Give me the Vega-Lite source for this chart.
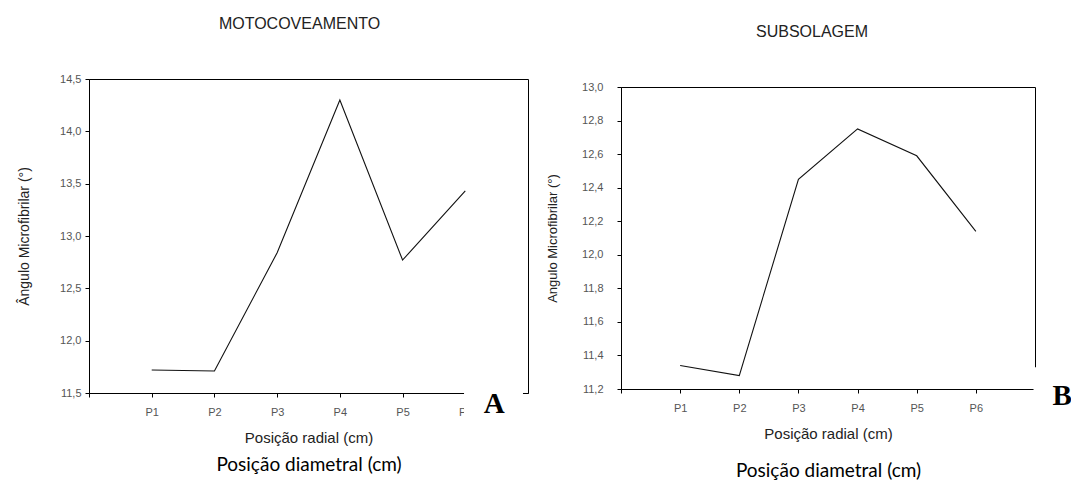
{
  "$schema": "https://vega.github.io/schema/vega-lite/v6.json",
  "padding": {"left": 17, "top": 15, "right": 0, "bottom": 0},
  "background": "white",
  "spacing": 93,
  "bounds": "flush",
  "hconcat": [
    {
      "width": 439,
      "height": 314,
      "title": {"text": "MOTOCOVEAMENTO", "offset": 41, "dx": -9},
      "resolve": {"axis": {"x": "independent"}},
      "layer": [
        {
          "data": {"values": [
            {"posicao": "P1", "pos": 1, "angulo": 11.72},
            {"posicao": "P2", "pos": 2, "angulo": 11.71},
            {"posicao": "P3", "pos": 3, "angulo": 12.84},
            {"posicao": "P4", "pos": 4, "angulo": 14.30},
            {"posicao": "P5", "pos": 5, "angulo": 12.77},
            {"posicao": "P6", "pos": 6, "angulo": 13.43}
          ]},
          "mark": {"type": "line", "color": "#111111", "strokeWidth": 1.1},
          "encoding": {
            "x": {"field": "pos", "type": "quantitative",
              "scale": {"domain": [0, 7], "nice": false, "zero": false},
              "axis": {"values": [0, 1, 2, 3, 4, 5, 6], "labelExpr": "datum.value >= 1 ? 'P' + datum.value : ''", "title": "Posição radial (cm)", "labelPadding": 9, "titlePadding": 13, "titleFontSize": 15}},
            "y": {"field": "angulo", "type": "quantitative",
              "scale": {"domain": [11.5, 14.5], "nice": false, "zero": false},
              "axis": {"values": [11.5, 12, 12.5, 13, 13.5, 14, 14.5], "labelOverlap": false, "labelExpr": "replace(format(datum.value, '.1f'), '.', ',')", "title": "Ângulo Microfibrilar (°)", "labelPadding": 4, "titlePadding": 28, "titleFontSize": 14}}
          }
        },
        {
          "data": {"values": [{"cobertura": "A"}]},
          "mark": {"type": "rect", "color": "white"},
          "encoding": {
            "x": {"datum": 5.98, "type": "quantitative", "axis": null},
            "x2": {"datum": 6.92},
            "y": {"datum": 11.56, "type": "quantitative",
              "axis": {"values": [11.5, 12, 12.5, 13, 13.5, 14, 14.5], "labelOverlap": false, "labelExpr": "replace(format(datum.value, '.1f'), '.', ',')", "title": "Ângulo Microfibrilar (°)", "labelPadding": 4, "titlePadding": 28, "titleFontSize": 14}},
            "y2": {"datum": 11.05}
          }
        },
        {
          "data": {"values": [{"painel": "A"}]},
          "mark": {"type": "text", "font": "Liberation Serif", "fontWeight": "bold", "fontSize": 29, "align": "center", "baseline": "alphabetic", "dy": 19.5, "color": "black"},
          "encoding": {
            "text": {"field": "painel"},
            "x": {"datum": 6.46, "type": "quantitative",
              "axis": {"orient": "bottom", "domain": false, "ticks": false, "labels": false, "title": "Posição diametral (cm)", "titleFont": "Lato", "titleFontSize": 19, "titleColor": "black", "titlePadding": 62}},
            "y": {"datum": 11.5, "type": "quantitative",
              "axis": {"values": [11.5, 12, 12.5, 13, 13.5, 14, 14.5], "labelOverlap": false, "labelExpr": "replace(format(datum.value, '.1f'), '.', ',')", "title": "Ângulo Microfibrilar (°)", "labelPadding": 4, "titlePadding": 28, "titleFontSize": 14}}
          }
        }
      ]
    },
    {
      "spacing": 0,
      "bounds": "flush",
      "vconcat": [
        {
          "width": 414,
          "height": 8,
          "view": {"stroke": null},
          "data": {"values": []},
          "mark": {"type": "point", "opacity": 0},
          "encoding": {}
        },
        {
          "width": 414,
          "height": 302,
          "title": {"text": "SUBSOLAGEM", "offset": 41, "dx": -16},
          "resolve": {"axis": {"x": "independent"}},
          "layer": [
            {
              "data": {"values": [
                {"posicao": "P1", "pos": 1, "angulo": 11.34},
                {"posicao": "P2", "pos": 2, "angulo": 11.28},
                {"posicao": "P3", "pos": 3, "angulo": 12.45},
                {"posicao": "P4", "pos": 4, "angulo": 12.75},
                {"posicao": "P5", "pos": 5, "angulo": 12.59},
                {"posicao": "P6", "pos": 6, "angulo": 12.14}
              ]},
              "mark": {"type": "line", "color": "#111111", "strokeWidth": 1.1},
              "encoding": {
                "x": {"field": "pos", "type": "quantitative",
                  "scale": {"domain": [0, 7], "nice": false, "zero": false},
                  "axis": {"values": [0, 1, 2, 3, 4, 5, 6], "labelExpr": "datum.value >= 1 ? 'P' + datum.value : ''", "title": "Posição radial (cm)", "labelPadding": 9, "titlePadding": 13, "titleFontSize": 15}},
                "y": {"field": "angulo", "type": "quantitative",
                  "scale": {"domain": [11.2, 13.0], "nice": false, "zero": false},
                  "axis": {"values": [11.2, 11.4, 11.6, 11.8, 12.0, 12.2, 12.4, 12.6, 12.8, 13.0], "labelOverlap": false, "labelExpr": "replace(format(datum.value, '.1f'), '.', ',')", "title": "Angulo Microfibrilar (°)", "labelPadding": 14, "titlePadding": 22, "titleFontSize": 13}}
              }
            },
            {
              "data": {"values": [{"cobertura": "B"}]},
              "mark": {"type": "rect", "color": "white"},
              "encoding": {
                "x": {"datum": 6.975, "type": "quantitative", "axis": null},
                "x2": {"datum": 7.6},
                "y": {"datum": 11.33, "type": "quantitative",
                  "axis": {"values": [11.2, 11.4, 11.6, 11.8, 12.0, 12.2, 12.4, 12.6, 12.8, 13.0], "labelOverlap": false, "labelExpr": "replace(format(datum.value, '.1f'), '.', ',')", "title": "Angulo Microfibrilar (°)", "labelPadding": 14, "titlePadding": 22, "titleFontSize": 13}},
                "y2": {"datum": 11.0}
              }
            },
            {
              "data": {"values": [{"painel": "B"}]},
              "mark": {"type": "text", "font": "Liberation Serif", "fontWeight": "bold", "fontSize": 29, "align": "center", "baseline": "alphabetic", "dy": 16, "color": "black"},
              "encoding": {
                "text": {"field": "painel"},
                "x": {"datum": 7.46, "type": "quantitative",
                  "axis": {"orient": "bottom", "domain": false, "ticks": false, "labels": false, "title": "Posição diametral (cm)", "titleFont": "Lato", "titleFontSize": 19, "titleColor": "black", "titlePadding": 72}},
                "y": {"datum": 11.2, "type": "quantitative",
                  "axis": {"values": [11.2, 11.4, 11.6, 11.8, 12.0, 12.2, 12.4, 12.6, 12.8, 13.0], "labelOverlap": false, "labelExpr": "replace(format(datum.value, '.1f'), '.', ',')", "title": "Angulo Microfibrilar (°)", "labelPadding": 14, "titlePadding": 22, "titleFontSize": 13}}
              }
            }
          ]
        }
      ]
    }
  ],
  "config": {
    "view": {"stroke": "black", "strokeWidth": 1},
    "axis": {"grid": false, "domainColor": "black", "domainWidth": 1, "tickColor": "black", "tickSize": 4, "tickWidth": 1,
      "labelFont": "Liberation Sans", "labelFontSize": 11, "labelColor": "#555555", "labelOverlap": false,
      "titleFont": "Liberation Sans", "titleFontWeight": "normal", "titleColor": "#222222"},
    "axisY": {"labelOverlap": false},
    "title": {"font": "Liberation Sans", "fontSize": 16, "fontWeight": "normal", "color": "#222222"}
  }
}
